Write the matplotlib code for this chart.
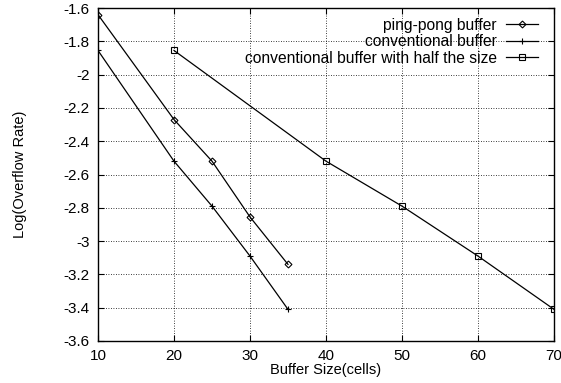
import matplotlib
matplotlib.use("Agg")
import matplotlib.pyplot as plt

plt.rcParams['font.family'] = ['Liberation Sans', 'DejaVu Sans']

x_ping = [10, 20, 25, 30, 35]
y_ping = [-1.64, -2.27, -2.52, -2.855, -3.14]

x_conv = [10, 20, 25, 30, 35]
y_conv = [-1.855, -2.52, -2.79, -3.09, -3.41]

x_half = [20, 40, 50, 60, 70]
y_half = [-1.855, -2.52, -2.79, -3.09, -3.41]

fig = plt.figure(figsize=(5.61, 3.83), dpi=100)
ax = fig.add_axes([98/561, 1-341/383, (554-98)/561, (341-8)/383])

ax.plot(x_ping, y_ping, color='black', lw=0.9, marker='D', ms=3.5, mfc='none', mew=0.8,
        label='ping-pong buffer')
ax.plot(x_conv, y_conv, color='black', lw=0.9, marker='+', ms=5, mew=0.8,
        label='conventional buffer')
ax.plot(x_half, y_half, color='black', lw=0.9, marker='s', ms=4.5, mfc='none', mew=0.8,
        label='conventional buffer with half the size')

ax.set_xlim(10, 70)
ax.set_ylim(-3.6, -1.6)
ax.set_xticks(range(10, 71, 10))
ax.set_yticks([-3.6, -3.4, -3.2, -3.0, -2.8, -2.6, -2.4, -2.2, -2.0, -1.8, -1.6])
ax.set_yticklabels(['-3.6', '-3.4', '-3.2', '-3', '-2.8', '-2.6', '-2.4', '-2.2', '-2', '-1.8', '-1.6'])
ax.grid(True, linestyle=(0, (1, 2)), color='black', lw=0.6)
ax.tick_params(direction='in', top=True, right=True, labelsize=11, length=4, pad=6)
for s in ax.spines.values():
    s.set_linewidth(1.0)

ax.set_xlabel('Buffer Size(cells)', fontsize=10.5, labelpad=0)
ax.set_ylabel('Log(Overflow Rate)', fontsize=10.5, labelpad=26)

ax.legend(loc='upper right', bbox_to_anchor=(0.978, 0.99), frameon=False, markerfirst=False,
          fontsize=11.25, handlelength=2.0, labelspacing=0.1, borderaxespad=0,
          handletextpad=0.6)

plt.savefig('out.png', dpi=100)
